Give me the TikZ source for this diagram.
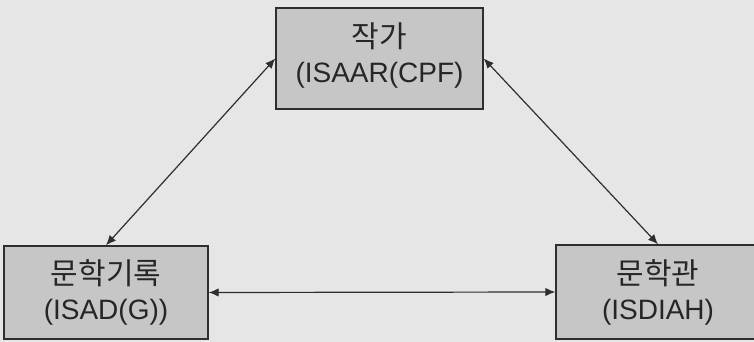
\documentclass[tikz,border=0pt]{standalone}
\usepackage{fontspec}
\setmainfont{Liberation Sans}
\newfontfamily\kr[Scale=1.07]{Noto Sans CJK KR}
\usetikzlibrary{arrows.meta}

\definecolor{bggray}{HTML}{E6E6E6}
\definecolor{boxgray}{HTML}{C6C6C6}
\definecolor{linegray}{HTML}{2E2E2E}

\begin{document}
\begin{tikzpicture}[x=1pt,y=-1pt,
  std/.style={draw=linegray, line width=1.4pt, fill=boxgray, align=center, inner sep=0pt,
    font=\fontsize{28}{35}\selectfont, text=black!85},
  link/.style={linegray, line width=1.2pt, {Latex[length=10pt,width=8.5pt]}-{Latex[length=10pt,width=8.5pt]}}]

\fill[bggray] (0,0) rectangle (754,342);
\clip (0,0) rectangle (754,342);

\node [std, minimum width=207pt, minimum height=101pt] (author) at (379.5,58.5) {{\kr 작가}\\(ISAAR(CPF)\rule[-12pt]{0pt}{12pt}};
\node [std, minimum width=204pt, minimum height=93pt] (records) at (106,292.5) {{\kr 문학기록}\\(ISAD(G))};
\node [std, minimum width=204pt, minimum height=94pt] (museum) at (658,292) {{\kr 문학관}\\(ISDIAH)};

\draw [link] (records.north) -- (author.west);
\draw [link] (museum.north) -- (author.east);
\draw [link] (records.east) -- (museum.west);

\end{tikzpicture}
\end{document}
